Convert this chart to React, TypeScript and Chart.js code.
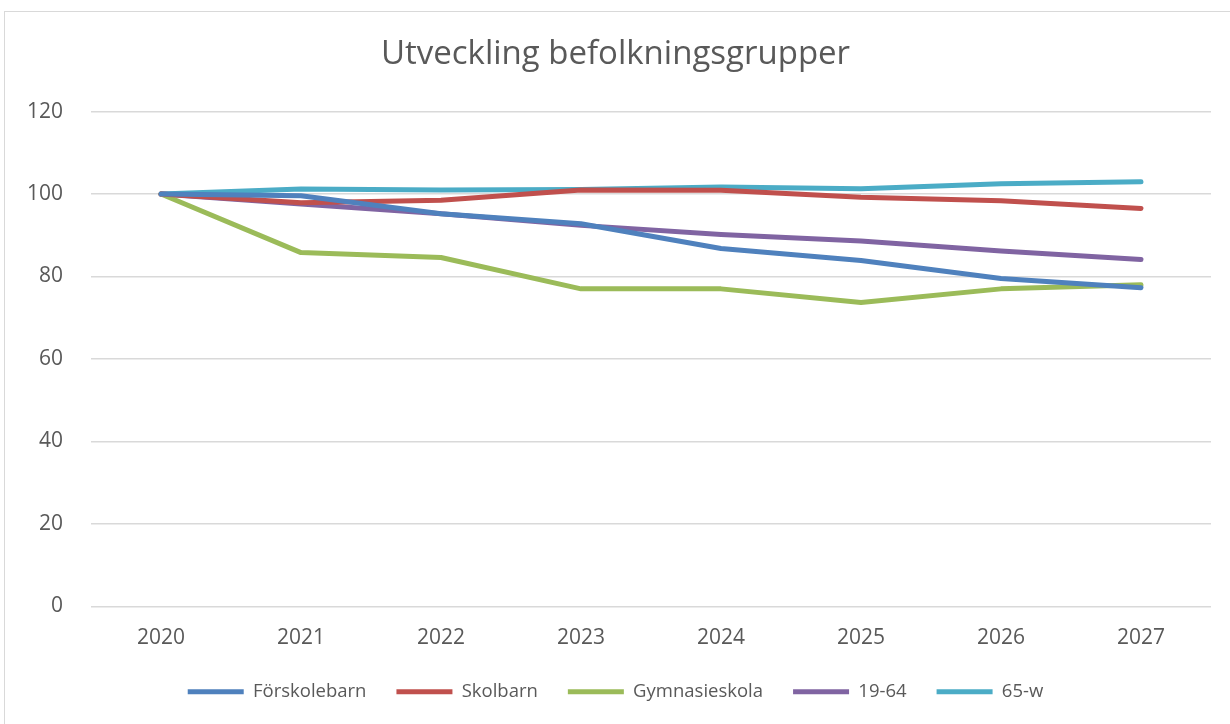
import React, { useEffect, useRef } from "react";
import { Chart, registerables } from "chart.js";

Chart.register(...registerables);

const years = ["2020", "2021", "2022", "2023", "2024", "2025", "2026", "2027"];
const forskolebarn = [100, 99.6, 95.2, 92.8, 86.8, 83.9, 79.5, 77.3];
const skolbarn = [100, 97.9, 98.5, 101.0, 100.9, 99.2, 98.4, 96.5];
const gymnasieskola = [100, 85.8, 84.6, 77.0, 77.0, 73.7, 77.0, 78.0];
const aldre19_64 = [100, 97.6, 95.2, 92.4, 90.2, 88.6, 86.2, 84.1];
const aldre65w = [100, 101.2, 101.0, 101.1, 101.7, 101.3, 102.5, 103.0];

const names = ["Förskolebarn", "Skolbarn", "Gymnasieskola", "19-64", "65-w"];
const colors = ["#4F81BD", "#C0504D", "#9BBB59", "#8064A2", "#4BACC6"];
const yTicks = [0, 20, 40, 60, 80, 100, 120];

const FONT = "'Open Sans', 'Noto Sans', sans-serif";

export default function App() {
  const ref = useRef<HTMLCanvasElement | null>(null);
  useEffect(() => {
    const series = [forskolebarn, skolbarn, gymnasieskola, aldre19_64, aldre65w];
    const chart = new Chart(ref.current as HTMLCanvasElement, {
      type: "line",
      data: {
        labels: years,
        datasets: series.map((d, i) => ({
          label: names[i],
          data: d,
          borderColor: colors[i],
          backgroundColor: colors[i],
          borderWidth: 5,
          pointRadius: 0,
          tension: 0,
          borderCapStyle: "round" as const,
          borderJoinStyle: "round" as const,
        })),
      },
      options: {
        animation: false,
        responsive: false,
        maintainAspectRatio: false,
        layout: { padding: { left: 20, right: 19, top: 0, bottom: 13 } },
        plugins: {
          title: {
            display: true,
            text: "Utveckling befolkningsgrupper",
            color: "#595959",
            font: { family: FONT, size: 33, weight: "normal" },
            padding: { top: 35, bottom: 37 },
          },
          legend: {
            position: "bottom",
            labels: {
              color: "#595959",
              font: { family: FONT, size: 18.5 },
              usePointStyle: true,
              pointStyle: "line",
              pointStyleWidth: 56,
              padding: 30,
            },
          },
          tooltip: { enabled: false },
        },
        scales: {
          x: {
            offset: true,
            afterFit: (s: any) => {
              s.height = s.height - 17;
            },
            grid: { display: false, drawTicks: false },
            border: { display: false },
            ticks: {
              color: "#595959",
              font: { family: FONT, size: 21 },
              padding: 19,
              maxRotation: 0,
            },
          },
          y: {
            min: 0,
            max: 120,
            afterFit: (s: any) => {
              s.width = 71;
            },
            afterBuildTicks: (s: any) => {
              s.ticks = yTicks.map((v) => ({ value: v }));
            },
            grid: { color: "#D9D9D9", lineWidth: 1.5, drawTicks: false },
            border: { display: false },
            ticks: {
              color: "#595959",
              font: { family: FONT, size: 21 },
              padding: 28,
            },
          },
        },
      },
    });
    return () => chart.destroy();
  }, []);
  return (
    <div style={{ position: "fixed", left: 0, top: 0, width: 1230, height: 724, background: "#fff" }}>
      <div
        style={{
          position: "absolute",
          left: 4,
          top: 11,
          width: 1240,
          height: 730,
          border: "1px solid #D9D9D9",
          boxSizing: "border-box",
        }}
      />
      <canvas ref={ref} width={1230} height={724} style={{ position: "absolute", left: 0, top: 0, display: "block" }} />
    </div>
  );
}
